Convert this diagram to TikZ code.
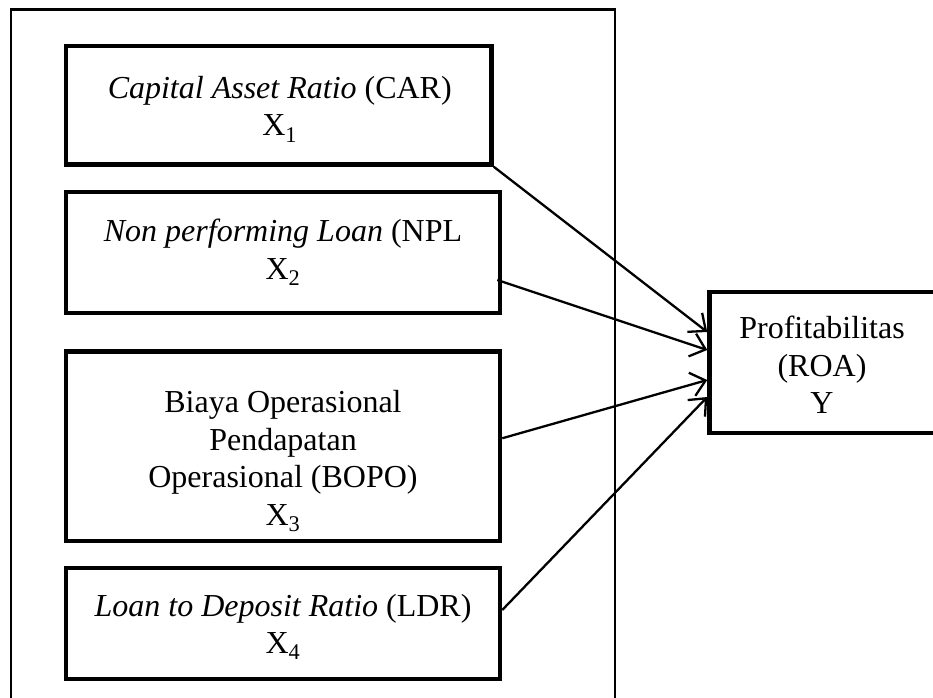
\documentclass[tikz,border=0pt]{standalone}
\usepackage{fontspec}
\setmainfont{Liberation Serif}
\usetikzlibrary{arrows.meta}
\begin{document}
\begin{tikzpicture}[x=1pt,y=-1pt,
  frame/.style={draw, line width=2.2pt, rectangle, inner sep=0pt},
  varbox/.style={draw, line width=4.5pt, rectangle, inner sep=0pt},
  lbl/.style={align=center, inner sep=0pt, font=\fontsize{32}{37.5}\selectfont},
  link/.style={line width=2.3pt, -{Straight Barb[length=14pt,width=24pt]}}]
\useasboundingbox (0,0) rectangle (933,697);
\clip (0,0) rectangle (933,697);

% group frame around the independent variables
\node[frame, minimum width=604pt, minimum height=740pt, anchor=north west] (grp) at (10,8.3) {};

% independent variables
\node[varbox, minimum width=425.5pt, minimum height=118.5pt] (x1) at (278.75,105.25) {};
\node[varbox, minimum width=434pt, minimum height=121pt] (x2) at (283,252.5) {};
\node[varbox, minimum width=434pt, minimum height=189.5pt] (x3) at (283,446.25) {};
\node[varbox, minimum width=434pt, minimum height=111pt] (x4) at (283,623.5) {};

% dependent variable
\node[varbox, minimum width=250.5pt, minimum height=141pt] (y) at (834.75,362.5) {};

% labels
\node[lbl] (x1t) at ([xshift=1pt,yshift=-4pt]x1.center) {\textit{Capital Asset Ratio} (CAR)\\X\textsubscript{1}};
\node[lbl] (x2t) at ([yshift=0pt]x2.center) {\textit{Non performing Loan} (NPL\\X\textsubscript{2}};
\node[lbl] (x3t) at ([yshift=-15pt]x3.center) {Biaya Operasional\\Pendapatan\\Operasional (BOPO)\\X\textsubscript{3}};
\node[lbl] (x4t) at ([yshift=-3.5pt]x4.center) {\textit{Loan to Deposit Ratio} (LDR)\\X\textsubscript{4}};
\node[lbl] (yt) at ([xshift=-12.75pt,yshift=-2.5pt]y.center) {Profitabilitas\\(ROA)\\Y};

% influence arrows
\draw[link] (x1.south east) -- ([yshift=30.5pt]y.west);
\draw[link] ([xshift=-5pt,yshift=-27.5pt]x2.east) -- ([yshift=12.5pt]y.west);
\draw[link] ([yshift=8pt]x3.east) -- ([yshift=-17.5pt]y.west);
\draw[link] ([yshift=13.5pt]x4.east) -- ([yshift=-34.5pt]y.west);
\end{tikzpicture}
\end{document}
